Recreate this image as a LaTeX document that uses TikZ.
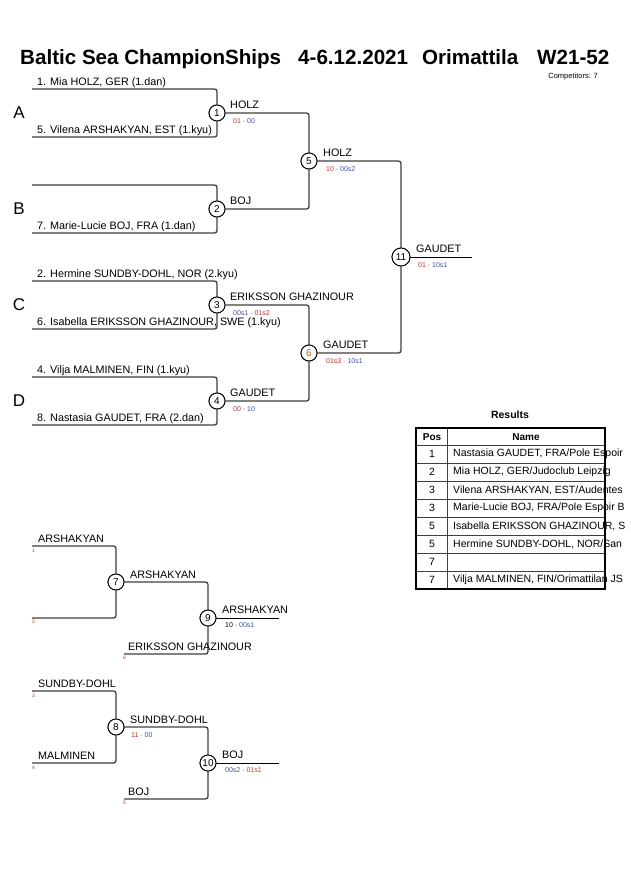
\documentclass[tikz,border=0pt]{standalone}
\usepackage{fontspec}
\setmainfont{Liberation Sans}
\definecolor{brgray}{HTML}{404040}
\definecolor{scA}{HTML}{B03A2E}
\definecolor{scB}{HTML}{3A55A8}
\definecolor{numor}{HTML}{C06010}
\newcommand{\myscore}[3][scA]{\textcolor{#1}{#2}\textcolor{gray}{\ -\ }\textcolor{scB}{#3}}
\newcommand{\myscoreb}[2]{\textcolor{scB}{#1}\textcolor{gray}{\ -\ }\textcolor{scA}{#2}}
\begin{document}
\begin{tikzpicture}[x=1pt,y=-1pt,
  br/.style={draw=brgray, line width=1.3pt, rounded corners=2.5pt},
  fin/.style={draw=black, line width=1pt},
  mc/.style={circle, draw=black, line width=0.9pt, fill=white, minimum size=16pt, inner sep=0pt, font=\fontsize{10}{12}\selectfont},
  nm/.style={anchor=base west, inner sep=0pt, font=\fontsize{10.8}{13}\selectfont},
  sc/.style={anchor=base west, inner sep=0pt, font=\fontsize{7}{8}\selectfont},
  sd/.style={anchor=base west, inner sep=0pt, font=\fontsize{5}{6}\selectfont},
  pool/.style={anchor=center, inner sep=0pt, font=\fontsize{17}{20}\selectfont},
  ttl/.style={anchor=base west, inner sep=0pt, font=\fontsize{20.6}{23}\selectfont\bfseries},
  tb/.style={anchor=center, inner sep=0pt, font=\fontsize{10.5}{12}\selectfont}]
\useasboundingbox[fill=white] (0,0) rectangle (630,891);

% Title
\node[ttl] (t1) at (20,65) {Baltic Sea ChampionShips};
\node[ttl] (t2) at (298,65) {4-6.12.2021};
\node[ttl] (t3) at (422,65) {Orimattila};
\node[ttl] (t4) at (537,65) {W21-52};
\node[anchor=base east, inner sep=0pt, font=\fontsize{7.5}{9}\selectfont] (comp) at (598,78) {Competitors: 7};

% pool letters
\node[pool] (pA) at (19,113) {A};
\node[pool] (pB) at (19,209) {B};
\node[pool] (pC) at (19,305) {C};
\node[pool] (pD) at (19,401) {D};

% start coordinates
\coordinate (s1) at (32,89);
\coordinate (s5) at (32,137);
\coordinate (sb) at (32,185);
\coordinate (s7) at (32,233);
\coordinate (s2) at (32,281);
\coordinate (s6) at (32,329);
\coordinate (s4) at (32,377);
\coordinate (s8) at (32,425);
\coordinate (f11) at (472,257);

% circles
\node[mc] (m1) at (217,113) {1};
\node[mc] (m2) at (217,209) {2};
\node[mc] (m3) at (217,305) {3};
\node[mc] (m4) at (217,401) {4};
\node[mc] (m5) at (309,161) {5};
\node[mc] (m6) at (309,353) {\textcolor{numor}{6}};
\node[mc, minimum size=18pt] (m11) at (401,257) {11};

% connectors
\draw[br] (s1) -| (m1);
\draw[br] (s5) -| (m1);
\draw[br] (sb) -| (m2);
\draw[br] (s7) -| (m2);
\draw[br] (s2) -| (m3);
\draw[br] (s6) -| (m3);
\draw[br] (s4) -| (m4);
\draw[br] (s8) -| (m4);
\draw[br] (m1) -| (m5);
\draw[br] (m2) -| (m5);
\draw[br] (m3) -| (m6);
\draw[br] (m4) -| (m6);
\draw[br] (m5) -| (m11);
\draw[br] (m6) -| (m11);
\draw[fin] (m11) -- (f11);

% redraw circles on top
\node[mc] at (m1) {1};
\node[mc] at (m2) {2};
\node[mc] at (m3) {3};
\node[mc] at (m4) {4};
\node[mc] at (m5) {5};
\node[mc] at (m6) {\textcolor{numor}{6}};
\node[mc, minimum size=18pt] at (m11) {11};

% competitor names
\node[nm] (n1) at (37,85) {1. Mia HOLZ, GER (1.dan)};
\node[nm] (n5) at (37,133) {5. Vilena ARSHAKYAN, EST (1.kyu)};
\node[nm] (n7) at (37,229) {7. Marie-Lucie BOJ, FRA (1.dan)};
\node[nm] (n2) at (37,277) {2. Hermine SUNDBY-DOHL, NOR (2.kyu)};
\node[nm] (n6) at (37,325) {6. Isabella ERIKSSON GHAZINOUR, SWE (1.kyu)};
\node[nm] (n4) at (37,373) {4. Vilja MALMINEN, FIN (1.kyu)};
\node[nm] (n8) at (37,421) {8. Nastasia GAUDET, FRA (2.dan)};

% winners and scores
\node[nm] (w1) at (230,108) {HOLZ};
\node[sc] (c1) at (233,123) {\myscore{01}{00}};
\node[nm] (w2) at (230,204) {BOJ};
\node[nm] (w3) at (230,300) {ERIKSSON GHAZINOUR};
\node[sc] (c3) at (233,315) {\myscoreb{00s1}{01s2}};
\node[nm] (w4) at (230,396) {GAUDET};
\node[sc] (c4) at (233,411) {\myscore{00}{10}};
\node[nm] (w5) at (323,156) {HOLZ};
\node[sc] (c5) at (326,171) {\myscore{10}{00s2}};
\node[nm] (w6) at (323,348) {GAUDET};
\node[sc] (c6) at (326,363) {\myscore{01s3}{10s1}};
\node[nm] (w11) at (416,252) {GAUDET};
\node[sc] (c11) at (418,267) {\myscore{01}{10s1}};

% Results table
\node[anchor=base, inner sep=0pt, font=\fontsize{10.5}{12}\selectfont\bfseries] (res) at (510,418) {Results};
\begin{scope}
\clip (0,0) rectangle (630,891);
\node[tb, font=\fontsize{10}{12}\selectfont\bfseries] (hp) at (432,437) {Pos};
\node[tb, font=\fontsize{10}{12}\selectfont\bfseries] (hn) at (526,437) {Name};
\node[tb] (p1) at (432,454) {1};
\node[tb] (p2) at (432,472) {2};
\node[tb] (p3) at (432,490) {3};
\node[tb] (p4) at (432,508) {3};
\node[tb] (p5) at (432,526) {5};
\node[tb] (p6) at (432,544) {5};
\node[tb] (p7) at (432,562) {7};
\node[tb] (p8) at (432,580) {7};
\node[tb, anchor=west] (q1) at (453,454) {Nastasia GAUDET, FRA/Pole Espoir};
\node[tb, anchor=west] (q2) at (453,472) {Mia HOLZ, GER/Judoclub Leipzig};
\node[tb, anchor=west] (q3) at (453,490) {Vilena ARSHAKYAN, EST/Audentes};
\node[tb, anchor=west] (q4) at (453,508) {Marie-Lucie BOJ, FRA/Pole Espoir B};
\node[tb, anchor=west] (q5) at (453,526) {Isabella ERIKSSON GHAZINOUR, S};
\node[tb, anchor=west] (q6) at (453,544) {Hermine SUNDBY-DOHL, NOR/San};
\node[tb, anchor=west] (q8) at (453,580) {Vilja MALMINEN, FIN/Orimattilan JS};
\end{scope}
\foreach \yy in {445,463,481,499,517,535,553,571} {
  \draw[draw=brgray, line width=0.8pt] (416,\yy) -- (605,\yy);
}
\draw[draw=brgray, line width=0.8pt] (447,428) -- (447,589);
\draw[draw=black, line width=1.4pt] (416,428) rectangle (605,589);

% Repechage
\coordinate (r1) at (32,546);
\coordinate (r2) at (32,618);
\coordinate (r6) at (124,654);
\coordinate (f9) at (279,618);
\coordinate (r3) at (32,691);
\coordinate (r4) at (32,763);
\coordinate (r5) at (124,799);
\coordinate (f10) at (279,763);
\node[mc] (m7) at (116,582) {7};
\node[mc] (m9) at (208,618) {9};
\node[mc] (m8) at (116,727) {8};
\node[mc] (m10) at (208,763) {10};
\draw[br] (r1) -| (m7);
\draw[br] (r2) -| (m7);
\draw[br] (m7) -| (m9);
\draw[br] (r6) -| (m9);
\draw[fin] (m9) -- (f9);
\draw[br] (r3) -| (m8);
\draw[br] (r4) -| (m8);
\draw[br] (m8) -| (m10);
\draw[br] (r5) -| (m10);
\draw[fin] (m10) -- (f10);
\node[mc] at (m7) {7};
\node[mc] at (m9) {9};
\node[mc] at (m8) {8};
\node[mc] at (m10) {10};

\node[nm] (a1) at (38,542) {ARSHAKYAN};
\node[sd, text=scB] (d1) at (32,552) {1};
\node[sd, text=scA] (d2) at (32,623) {2};
\node[nm] (a7) at (130,578) {ARSHAKYAN};
\node[nm] (a6) at (128,650) {ERIKSSON GHAZINOUR};
\node[sd, text=scA] (d6) at (123,659) {6};
\node[nm] (a9) at (222,613) {ARSHAKYAN};
\node[sc] (c9) at (225,627) {\myscore[black]{10}{00s1}};

\node[nm] (b3) at (38,687) {SUNDBY-DOHL};
\node[sd, text=scA] (d3) at (32,697) {3};
\node[nm] (b4) at (38,759) {MALMINEN};
\node[sd, text=scB] (d4) at (32,769) {4};
\node[nm] (b8) at (130,723) {SUNDBY-DOHL};
\node[sc] (c8) at (131,737) {\myscore{11}{00}};
\node[nm] (b5) at (128,795) {BOJ};
\node[sd, text=scA] (d5) at (123,804) {5};
\node[nm] (b10) at (222,758) {BOJ};
\node[sc] (c10) at (225,772) {\myscoreb{00s2}{01s1}};
\end{tikzpicture}
\end{document}
